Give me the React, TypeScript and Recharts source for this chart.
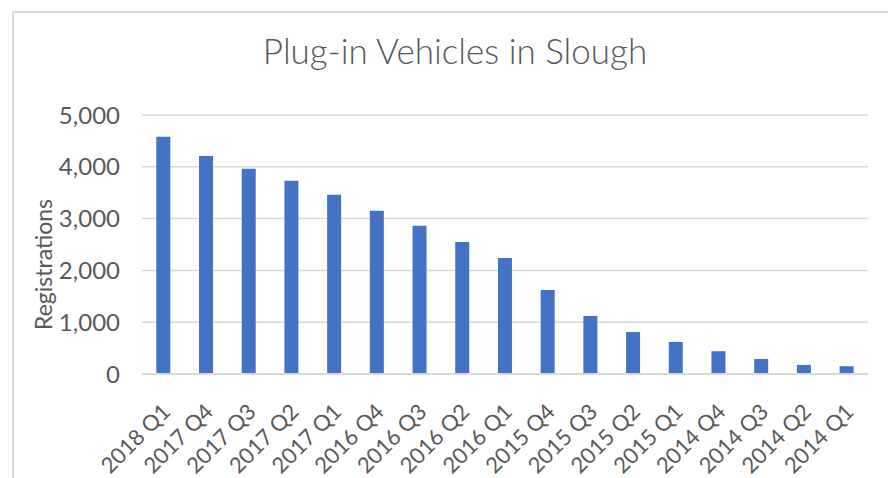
import { BarChart, Bar, XAxis, YAxis, CartesianGrid, Label } from "recharts";

const categories = [
  "2018 Q1", "2017 Q4", "2017 Q3", "2017 Q2", "2017 Q1", "2016 Q4", "2016 Q3", "2016 Q2", "2016 Q1",
  "2015 Q4", "2015 Q3", "2015 Q2", "2015 Q1", "2014 Q4", "2014 Q3", "2014 Q2", "2014 Q1",
];
const registrations = [
  4580, 4210, 3960, 3730, 3460, 3150, 2860, 2550, 2240,
  1620, 1120, 810, 620, 440, 290, 175, 150,
];
const yTicks = [0, 1000, 2000, 3000, 4000, 5000];

const data = categories.map((quarter, i) => ({ quarter, registrations: registrations[i] }));

const FONT = "Lato, 'Open Sans', sans-serif";
const TEXT = "#595959";
const GRID = "#d9d9d9";
const BAR = "#4472c4";

function QuarterTick({ x, y, payload }: { x?: number; y?: number; payload?: { value: string } }) {
  return (
    <g transform={`translate(${x},${y})`}>
      <text
        x={-16}
        y={28}
        textAnchor="end"
        transform="rotate(-45)"
        fill={TEXT}
        fontSize={22}
        fontFamily={FONT}
      >
        {payload?.value}
      </text>
    </g>
  );
}

export default function App() {
  return (
    <div style={{ position: "fixed", left: 0, top: 0, width: 888, height: 478, overflow: "hidden", background: "#fff" }}>
      <div
        style={{
          position: "absolute",
          left: 12,
          top: 11,
          width: 900,
          height: 500,
          borderTop: `2px solid ${GRID}`,
          borderLeft: `2px solid ${GRID}`,
        }}
      />
      <div
        style={{
          position: "absolute",
          left: 0,
          width: 910,
          top: 27,
          textAlign: "center",
          fontFamily: FONT,
          fontSize: 35,
          fontWeight: 300,
          color: TEXT,
          lineHeight: "46px",
        }}
      >
        Plug-in Vehicles in Slough
      </div>
      <div style={{ position: "absolute", left: 0, top: 0 }}>
        <BarChart
          width={888}
          height={478}
          data={data}
          margin={{ top: 115, right: 20, bottom: 0, left: 0 }}
          barCategoryGap="33.5%"
        >
          <CartesianGrid vertical={false} stroke={GRID} strokeWidth={1.5} />
          <XAxis
            dataKey="quarter"
            height={104}
            interval={0}
            tickLine={false}
            axisLine={{ stroke: GRID, strokeWidth: 2 }}
            tick={<QuarterTick />}
          />
          <YAxis
            width={142}
            domain={[0, 5000]}
            ticks={yTicks}
            tickLine={false}
            axisLine={false}
            tickSize={0}
            tickMargin={22}
            tickFormatter={(v: number) => v.toLocaleString("en-US")}
            tick={{ fill: TEXT, fontSize: 24, fontFamily: FONT }}
          >
            <Label
              value="Registrations"
              angle={-90}
              position="insideLeft"
              offset={44}
              dy={20}
              fill={TEXT}
              fontSize={23}
              fontFamily={FONT}
              style={{ textAnchor: "middle" }}
            />
          </YAxis>
          <Bar dataKey="registrations" fill={BAR} isAnimationActive={false} />
        </BarChart>
      </div>
    </div>
  );
}
